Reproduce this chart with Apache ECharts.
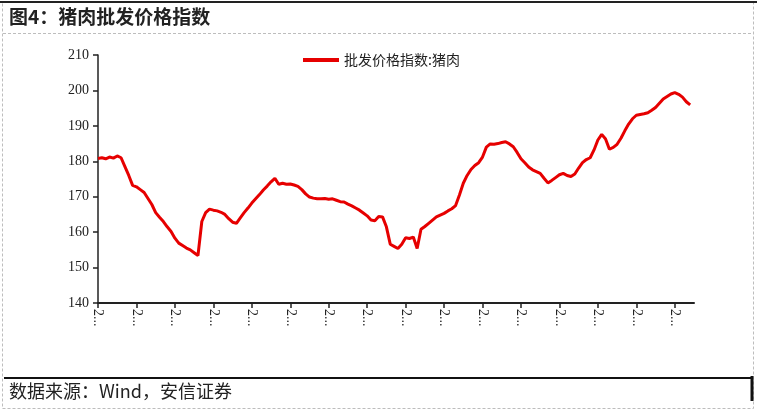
<!DOCTYPE html>
<html>
<head>
<meta charset="utf-8">
<script src="https://cdn.jsdelivr.net/npm/echarts@6/dist/echarts.min.js"></script>
<style>
html,body{margin:0;padding:0;background:#fff;}
#chart{width:757px;height:413px;}
</style>
</head>
<body>
<div id="chart"></div>
<script>
var titleText = '图4：猪肉批发价格指数';
var sourceText = '数据来源：Wind，安信证券';
var seriesName = '批发价格指数:猪肉';
var yTicks = [140, 150, 160, 170, 180, 190, 200, 210];

// weekly observation dates (categories)
var startDate = '2013-10-08';
var categoryCount = 156;

var porkIndex = [
  180.8, 181.0, 180.7, 181.2, 180.9, 181.5, 181.0, 178.5, 176.0, 173.2,
  172.8, 172.0, 171.2, 169.5, 167.8, 165.5, 164.2, 163.0, 161.5, 160.2,
  158.3, 156.9, 156.2, 155.5, 155.0, 154.2, 153.4, 163.0, 165.5, 166.5,
  166.2, 166.0, 165.6, 165.0, 163.8, 162.8, 162.5, 164.0, 165.5, 166.8,
  168.2, 169.4, 170.6, 171.9, 173.0, 174.2, 175.2, 173.5, 173.8, 173.5,
  173.6, 173.3, 172.9, 172.0, 170.8, 169.9, 169.6, 169.4, 169.4, 169.5,
  169.3, 169.4, 169.0, 168.6, 168.5, 167.9, 167.4, 166.8, 166.2, 165.4,
  164.6, 163.4, 163.2, 164.4, 164.3, 161.5, 156.6, 156.0, 155.4, 156.6,
  158.4, 158.2, 158.6, 155.4, 160.8, 161.6, 162.5, 163.4, 164.3, 164.8,
  165.3, 166.0, 166.6, 167.5, 170.5, 173.8, 176.0, 177.7, 178.8, 179.6,
  181.2, 184.0, 184.9, 184.8, 185.0, 185.3, 185.5, 184.9, 184.1, 182.5,
  180.7, 179.6, 178.4, 177.6, 177.1, 176.6, 175.2, 173.9, 174.6, 175.4,
  176.2, 176.6, 176.0, 175.7, 176.4, 178.1, 179.6, 180.5, 181.0, 183.2,
  186.0, 187.6, 186.3, 183.4, 183.9, 184.8, 186.5, 188.6, 190.5, 192.0,
  193.0, 193.2, 193.4, 193.7, 194.4, 195.2, 196.4, 197.6, 198.3, 199.0,
  199.4, 198.9, 198.1, 196.8, 195.9
];

var categories = [];
(function () {
  var d = new Date(startDate + 'T00:00:00Z');
  for (var i = 0; i < categoryCount; i++) {
    var t = new Date(d.getTime() + i * 7 * 86400000);
    categories.push(t.toISOString().slice(0, 10));
  }
})();

var serifFont = "'Liberation Serif', 'DejaVu Serif', serif";
var cjkFont = "'Noto Sans CJK SC', 'Liberation Serif', sans-serif";

var chart = echarts.init(document.getElementById('chart'), null, {renderer: 'canvas'});
chart.setOption({
  backgroundColor: '#ffffff',
  animation: false,
  grid: {left: 98, right: 63, top: 55, bottom: 110, containLabel: false},
  legend: {
    data: [seriesName],
    left: 298,
    top: 48,
    itemWidth: 36,
    itemHeight: 4,
    itemGap: 6,
    icon: 'rect',
    textStyle: {fontFamily: cjkFont, fontSize: 14, color: '#222'}
  },
  xAxis: {
    type: 'category',
    data: categories,
    boundaryGap: false,
    axisLine: {show: true, lineStyle: {color: '#222', width: 2}},
    axisTick: {show: true, interval: 9, length: 5, inside: false, lineStyle: {color: '#222', width: 1.5}},
    axisLabel: {
      interval: 9,
      rotate: -90,
      margin: 6,
      fontFamily: serifFont,
      fontSize: 14,
      color: '#222',
      formatter: function (v) { return v.slice(0, 1) + '...'; }
    },
    splitLine: {show: false}
  },
  yAxis: {
    type: 'value',
    min: yTicks[0],
    max: yTicks[yTicks.length - 1],
    interval: 10,
    axisLine: {show: true, lineStyle: {color: '#222', width: 1.5}},
    axisTick: {show: true, length: 5, lineStyle: {color: '#222', width: 1.5}},
    axisLabel: {fontFamily: serifFont, fontSize: 14, color: '#222', margin: 9},
    splitLine: {show: false}
  },
  series: [{
    name: seriesName,
    type: 'line',
    data: porkIndex,
    showSymbol: false,
    symbol: 'none',
    lineStyle: {color: '#e60000', width: 3},
    itemStyle: {color: '#e60000'}
  }],
  graphic: [
    {type: 'rect', silent: true, shape: {x: 2.5, y: 2.5, width: 751, height: 406},
      style: {fill: 'none', stroke: '#bdbdbd', lineWidth: 1, lineDash: [3, 2]}},
    {type: 'line', silent: true, shape: {x1: 0, y1: 2, x2: 757, y2: 2},
      style: {stroke: '#222', lineWidth: 2}},
    {type: 'text', silent: true, left: 9, top: 7,
      style: {text: titleText, font: "bold 19px " + cjkFont, fill: '#222'}},
    {type: 'line', silent: true, shape: {x1: 3, y1: 33.5, x2: 753, y2: 33.5},
      style: {stroke: '#bdbdbd', lineWidth: 1, lineDash: [3, 2]}},
    {type: 'line', silent: true, shape: {x1: 4, y1: 378, x2: 752, y2: 378},
      style: {stroke: '#111', lineWidth: 2}},
    {type: 'line', silent: true, shape: {x1: 752, y1: 376, x2: 752, y2: 401},
      style: {stroke: '#111', lineWidth: 3}},
    {type: 'text', silent: true, left: 9, top: 382,
      style: {text: sourceText, font: "18px " + cjkFont, fill: '#222'}}
  ]
});
</script>
</body>
</html>
